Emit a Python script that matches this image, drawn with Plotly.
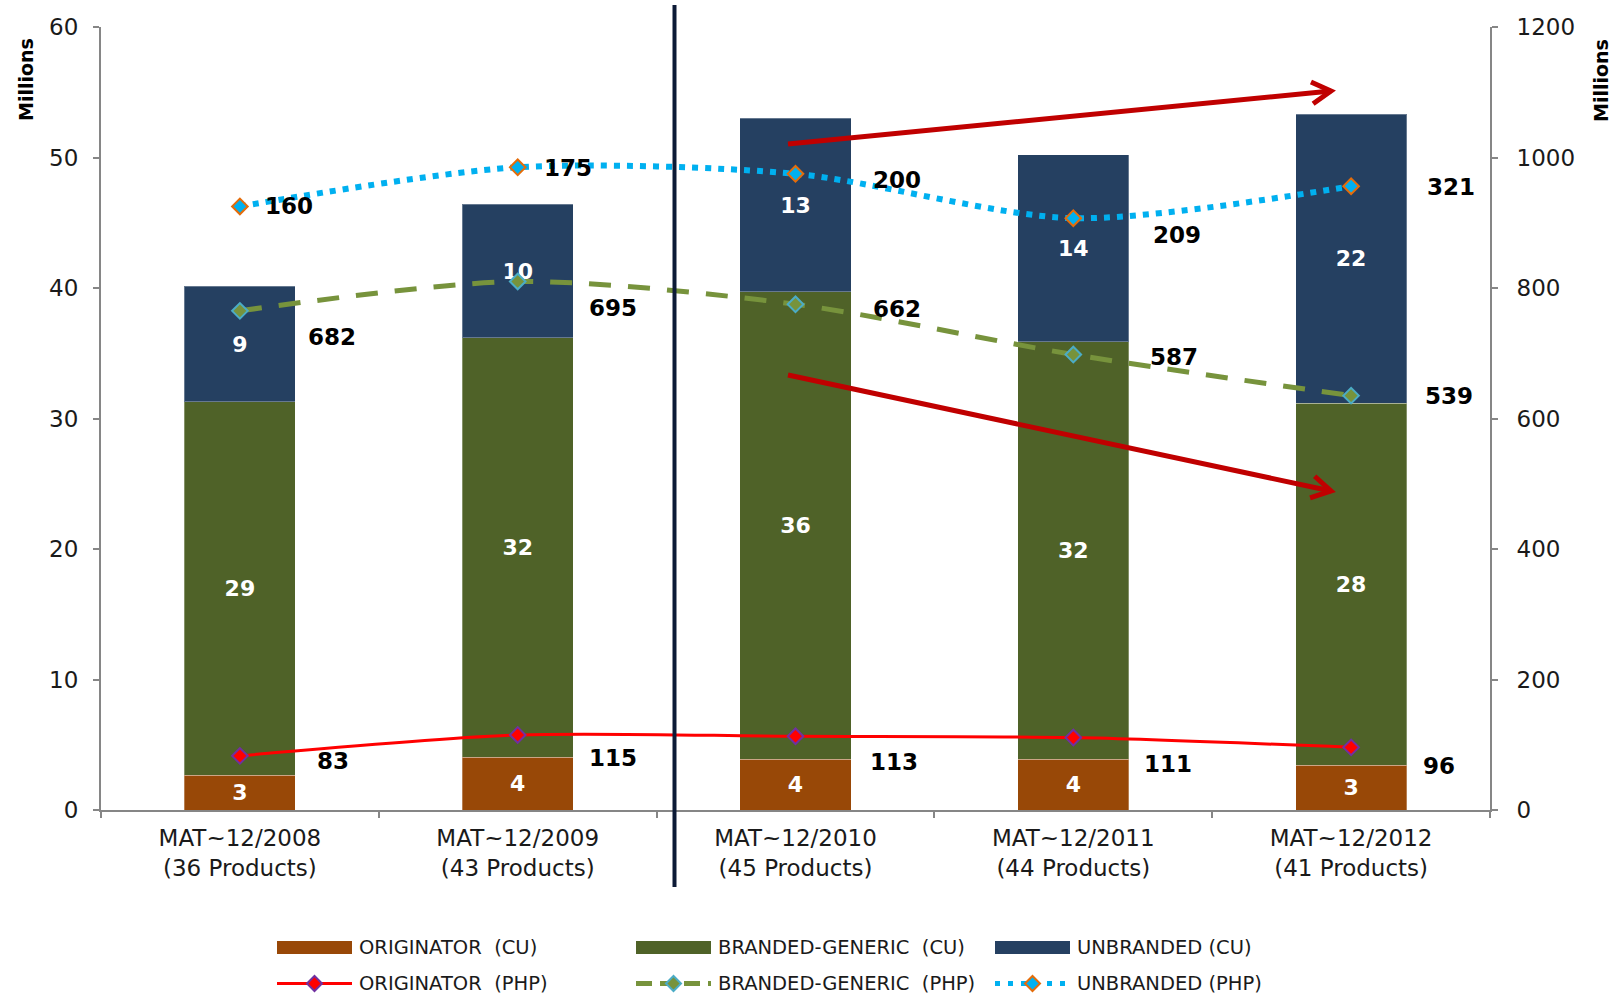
import numpy as np
import plotly.graph_objects as go

# ---- data -------------------------------------------------------------
periods = ["MAT~12/2008", "MAT~12/2009", "MAT~12/2010", "MAT~12/2011", "MAT~12/2012"]
product_counts = [36, 43, 45, 44, 41]

# counting units (millions) per segment
originator_cu = [2.67, 4.05, 3.90, 3.90, 3.43]
branded_generic_cu = [28.60, 32.15, 35.80, 31.98, 27.72]
unbranded_cu = [8.87, 10.20, 13.29, 14.35, 22.15]

# peso value (millions) per segment
originator_php = [83, 115, 113, 111, 96]
branded_generic_php = [682, 695, 662, 587, 539]
unbranded_php = [160, 175, 200, 209, 321]

# ---- page geometry -------------------------------------------------------
FONT = "DejaVu Sans"
W, H = 1622, 998
L, R, T, B = 101, 132, 27, 188
PW, PH = W - L - R, H - T - B


def px(x):
    """pixel x -> paper x"""
    return (x - L) / PW


def py(y):
    """pixel y -> paper y"""
    return (H - B - y) / PH


tick_text = [f"{p}<br>({n} Products)" for p, n in zip(periods, product_counts)]

fig = go.Figure()

# ---- stacked bars (left axis) -------------------------------------------
bar_series = [
    ("ORIGINATOR  (CU)", originator_cu, "#984807"),
    ("BRANDED-GENERIC  (CU)", branded_generic_cu, "#4F6228"),
    ("UNBRANDED (CU)", unbranded_cu, "#254061"),
]
for name, vals, color in bar_series:
    fig.add_bar(
        x=periods, y=vals, name=name, showlegend=False,
        marker=dict(color=color, line=dict(color="rgba(255,255,255,0.3)", width=1)),
        texttemplate="%{y:.0f}", textposition="inside", insidetextanchor="middle",
        textfont=dict(family=FONT, size=22, color="white", weight="bold"),
    )

# ---- stacked value lines (right axis) ------------------------------------
php_stack = np.cumsum(np.array([originator_php, branded_generic_php, unbranded_php]), axis=0)

line_series = [
    ("ORIGINATOR  (PHP)", php_stack[0], originator_php,
     dict(color="#FF0000", width=3), "#FF0000", "#7030A0"),
    ("BRANDED-GENERIC  (PHP)", php_stack[1], branded_generic_php,
     dict(color="#77933C", width=5, dash="22px,17px"), "#77933C", "#4BACC6"),
    ("UNBRANDED (PHP)", php_stack[2], unbranded_php,
     dict(color="#00B0F0", width=6, dash="6px,7px"), "#00B0F0", "#E46C0A"),
]
for name, yvals, _, line, fill, edge in line_series:
    fig.add_scatter(
        x=periods, y=yvals, yaxis="y2", name=name, showlegend=False,
        mode="lines+markers",
        line=dict(shape="spline", smoothing=0.8, **line),
        marker=dict(symbol="diamond", size=12, color=fill, line=dict(color=edge, width=2)),
    )

# value label offsets (pixels) for each line label
label_shift = [
    [(93, -5), (95, -23), (98, -26), (95, -26), (88, -19)],
    [(92, -26), (95, -27), (101, -5), (101, -2), (98, 0)],
    [(49, 0), (50, -1), (101, -6), (104, -17), (100, -1)],
]
annotations = []
for (name, yvals, labels, *_), shifts in zip(line_series, label_shift):
    for cat, yv, lab, (dx, dy) in zip(periods, yvals, labels, shifts):
        annotations.append(dict(
            x=cat, y=float(yv), xref="x", yref="y2", text=str(lab), showarrow=False,
            xshift=dx, yshift=dy,
            font=dict(family=FONT, size=23, color="#000000", weight="bold"),
        ))

# axis titles
for xp in (26, 1601):
    annotations.append(dict(
        x=px(xp), y=py(80), xref="paper", yref="paper", text="Millions",
        textangle=-90, showarrow=False, xanchor="center", yanchor="middle",
        font=dict(family=FONT, size=19, color="#000000", weight="bold"),
    ))

shapes = []

# divider between historic and recent periods
shapes.append(dict(type="line", xref="paper", yref="paper",
                   x0=px(674.5), x1=px(674.5), y0=py(5), y1=py(887),
                   line=dict(color="#0C1A36", width=4)))


# trend arrows with open heads
def arrow(x0, y0, x1, y1, color="#C00000", width=5, arm=22, ang=30):
    d = np.array([x1 - x0, y1 - y0], dtype=float)
    d /= np.linalg.norm(d)
    out = [dict(type="line", xref="paper", yref="paper",
                x0=px(x0), y0=py(y0), x1=px(x1), y1=py(y1),
                line=dict(color=color, width=width))]
    pts = []
    for s in (1, -1):
        a = np.radians(ang) * s
        rx = d[0] * np.cos(a) - d[1] * np.sin(a)
        ry = d[0] * np.sin(a) + d[1] * np.cos(a)
        pts.append((x1 - arm * rx, y1 - arm * ry))
    path = (f"M {px(pts[0][0])},{py(pts[0][1])} L {px(x1)},{py(y1)} "
            f"L {px(pts[1][0])},{py(pts[1][1])}")
    out.append(dict(type="path", xref="paper", yref="paper", path=path,
                    line=dict(color=color, width=width)))
    return out


shapes += arrow(788, 144, 1331, 91)
shapes += arrow(788, 375, 1331, 491)

# ---- legend ------------------------------------------------------------
col_x = [277, 636, 995]
sym_w = 75
row_y = [947.5, 983.5]
LEG_SIZE = 19.5
for (name, _, color), cx in zip(bar_series, col_x):
    shapes.append(dict(type="rect", xref="paper", yref="paper",
                       x0=px(cx), x1=px(cx + sym_w), y0=py(row_y[0] - 6.5), y1=py(row_y[0] + 6.5),
                       fillcolor=color, line=dict(width=0)))
    annotations.append(dict(x=px(cx + sym_w + 6), y=py(row_y[0]), xref="paper", yref="paper",
                            text=name.replace("  ", "&nbsp;&nbsp;"), showarrow=False,
                            xanchor="left", yanchor="middle", borderpad=0,
                            font=dict(family=FONT, size=LEG_SIZE, color="#1a1a1a")))

legend_dash = [None, "16px,8px", "5px,8px"]
for (name, _, _, line, fill, edge), cx, dsh in zip(line_series, col_x, legend_dash):
    ln = dict(color=line["color"], width=line["width"] if dsh is None else 5)
    if dsh:
        ln["dash"] = dsh
    shapes.append(dict(type="line", xref="paper", yref="paper",
                       x0=px(cx), x1=px(cx + sym_w), y0=py(row_y[1]), y1=py(row_y[1]), line=ln))
    mx = cx + sym_w / 2
    r = 7.5
    path = (f"M {px(mx - r)},{py(row_y[1])} L {px(mx)},{py(row_y[1] - r)} "
            f"L {px(mx + r)},{py(row_y[1])} L {px(mx)},{py(row_y[1] + r)} Z")
    shapes.append(dict(type="path", xref="paper", yref="paper", path=path,
                       fillcolor=fill, line=dict(color=edge, width=2)))
    annotations.append(dict(x=px(cx + sym_w + 6), y=py(row_y[1]), xref="paper", yref="paper",
                            text=name.replace("  ", "&nbsp;&nbsp;"), showarrow=False,
                            xanchor="left", yanchor="middle", borderpad=0,
                            font=dict(family=FONT, size=LEG_SIZE, color="#1a1a1a")))

axis_common = dict(
    showline=True, linecolor="#868686", linewidth=2, showgrid=False, zeroline=False,
    ticks="outside", ticklen=6, tickcolor="#868686", tickwidth=2,
    tickfont=dict(family=FONT, size=23, color="#1a1a1a"), automargin=False,
)

fig.update_layout(
    width=W, height=H, margin=dict(l=L, r=R, t=T, b=B, autoexpand=False),
    paper_bgcolor="white", plot_bgcolor="white",
    barmode="stack", bargap=0.6, showlegend=False,
    xaxis=dict(tickmode="array", tickvals=periods, ticktext=tick_text,
               tickson="boundaries", ticklabelstandoff=6, **axis_common),
    yaxis=dict(range=[0, 60], dtick=10, ticklabelstandoff=10, **axis_common),
    yaxis2=dict(range=[0, 1200], dtick=200, overlaying="y", side="right",
                ticklabelstandoff=14, **axis_common),
    shapes=shapes, annotations=annotations,
    font=dict(family=FONT),
)

fig.write_html("out.html")
